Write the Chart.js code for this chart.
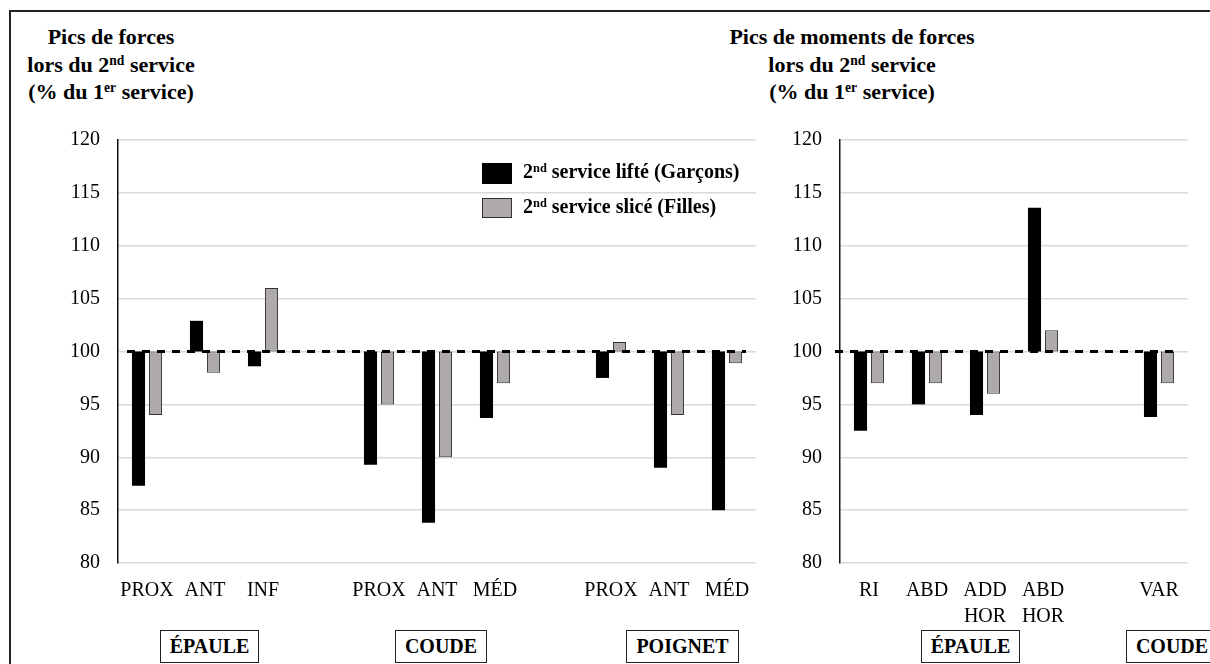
<!DOCTYPE html>
<html lang="fr">
<head>
<meta charset="utf-8">
<script src="https://cdn.jsdelivr.net/npm/chart.js@4.4.1/dist/chart.umd.min.js"></script>
<style>
  html, body { margin: 0; padding: 0; background: #fff; }
  body { width: 1210px; height: 664px; position: relative; overflow: hidden; font-family: 'Liberation Serif', 'Times New Roman', serif; color: #000; }
  .frame { position: absolute; left: 9px; top: 10px; width: 1220px; height: 700px; border-top: 2px solid #222; border-left: 2px solid #222; }
  canvas { position: absolute; }
  .title { position: absolute; top: 23px; width: 300px; text-align: center; font-weight: bold; font-size: 22px; line-height: 27.5px; }
  sup { font-size: 0.62em; line-height: 0; vertical-align: 0.5em; }
  .legend { position: absolute; left: 482px; font-weight: bold; font-size: 20px; line-height: 22px; white-space: nowrap; }
  .legend .sw { display: inline-block; width: 30px; height: 21px; vertical-align: middle; margin-right: 11px; box-sizing: border-box; }
  .group { position: absolute; top: 630px; height: 33px; box-sizing: border-box; border: 1.5px solid #222; font-weight: bold; font-size: 20px; line-height: 30px; text-align: center; background: #fff; }
</style>
</head>
<body>
<div class="frame"></div>

<div class="title" style="left: -39px;">Pics de forces<br>lors du 2<sup>nd</sup> service<br>(% du 1<sup>er</sup> service)</div>
<div class="title" style="left: 702px;">Pics de moments de forces<br>lors du 2<sup>nd</sup> service<br>(% du 1<sup>er</sup> service)</div>

<canvas id="forces-chart" width="740" height="520" style="left: 20px; top: 110px;"></canvas>
<canvas id="moments-chart" width="432" height="520" style="left: 760px; top: 110px;"></canvas>

<div class="legend" style="top: 160px;"><span class="sw" style="background:#000;"></span>2<sup>nd</sup> service lifté (Garçons)</div>
<div class="legend" style="top: 195px;"><span class="sw" style="background:#aeaaaa; border:1px solid #333; height:20px;"></span>2<sup>nd</sup> service slicé (Filles)</div>

<div class="group" style="left: 160px; width: 99px;">ÉPAULE</div>
<div class="group" style="left: 395px; width: 92px;">COUDE</div>
<div class="group" style="left: 626px; width: 113px;">POIGNET</div>
<div class="group" style="left: 921px; width: 99px;">ÉPAULE</div>
<div class="group" style="left: 1126px; width: 92px;">COUDE</div>

<script>
// Pics de forces (% du 1er service)
const forceLabels = ['PROX', 'ANT', 'INF', '', 'PROX', 'ANT', 'MÉD', '', 'PROX', 'ANT', 'MÉD'];
const forceBoys = [87.3, 102.9, 98.6, null, 89.3, 83.8, 93.7, null, 97.5, 89.0, 85.0];
const forceGirls = [94.0, 98.0, 106.0, null, 95.0, 90.0, 97.0, null, 100.9, 94.0, 98.9];

// Pics de moments de forces (% du 1er service)
const momentLabels = ['RI', 'ABD', ['ADD', 'HOR'], ['ABD', 'HOR'], '', 'VAR'];
const momentBoys = [92.5, 95.0, 94.0, 113.6, null, 93.8];
const momentGirls = [97.0, 97.0, 96.0, 102.0, null, 97.0];

// axe des ordonnées
const yMin = 80;
const yMax = 120;
const yStep = 5;
const refValue = 100;

const boysLabel = '2nd service lifté (Garçons)';
const girlsLabel = '2nd service slicé (Filles)';

const serif = "'Liberation Serif', 'Times New Roman', serif";

// dashed line at 100 %, drawn over the bars
const refLinePlugin = {
    id: 'refLine',
    afterDatasetsDraw(chart, args, opts) {
        const { ctx, chartArea, scales } = chart;
        const y = scales.y.getPixelForValue(opts.value);
        ctx.save();
        ctx.strokeStyle = '#000';
        ctx.lineWidth = 3;
        ctx.setLineDash([8, 7]);
        ctx.beginPath();
        ctx.moveTo(chartArea.left + opts.startOffset, y);
        ctx.lineTo(chartArea.right - opts.endOffset, y);
        ctx.stroke();
        ctx.restore();
    }
};

// floating bars that start from 100
function fromRef(values) {
    return values.map(v => v === null ? null : [refValue, v]);
}

function makeChart(canvasId, labels, boys, girls, yWidth, lineStart, lineEnd) {
    const ctx = document.getElementById(canvasId).getContext('2d');
    return new Chart(ctx, {
        type: 'bar',
        data: {
            labels: labels,
            datasets: [{
                label: boysLabel,
                data: fromRef(boys),
                backgroundColor: '#000',
                borderWidth: 0
            }, {
                label: girlsLabel,
                data: fromRef(girls),
                backgroundColor: '#aeaaaa',
                borderColor: '#333',
                borderWidth: 1,
                borderSkipped: false
            }]
        },
        options: {
            responsive: false,
            animation: false,
            devicePixelRatio: 1,
            categoryPercentage: 0.586,
            barPercentage: 0.77,
            layout: { padding: { top: 26, right: 4, left: 0, bottom: 0 } },
            scales: {
                x: {
                    grid: { display: false },
                    border: { display: false },
                    ticks: {
                        color: '#000',
                        font: { family: serif, size: 20, lineHeight: 1.3 },
                        padding: 7,
                        maxRotation: 0,
                        autoSkip: false
                    },
                    afterFit: (scale) => { scale.height = 67; }
                },
                y: {
                    min: yMin,
                    max: yMax,
                    grid: { color: '#d9d9d9', lineWidth: 1.5, drawTicks: false },
                    border: { display: true, color: '#111', width: 1.5 },
                    ticks: {
                        stepSize: yStep,
                        color: '#000',
                        font: { family: serif, size: 20 },
                        padding: 18
                    },
                    afterFit: (scale) => { scale.width = yWidth; }
                }
            },
            plugins: {
                legend: { display: false },
                tooltip: { enabled: false },
                refLine: { value: refValue, startOffset: lineStart, endOffset: lineEnd }
            }
        },
        plugins: [refLinePlugin]
    });
}

makeChart('forces-chart', forceLabels, forceBoys, forceGirls, 98, 9, 10);
makeChart('moments-chart', momentLabels, momentBoys, momentGirls, 80, -5, 11);
</script>
</body>
</html>
